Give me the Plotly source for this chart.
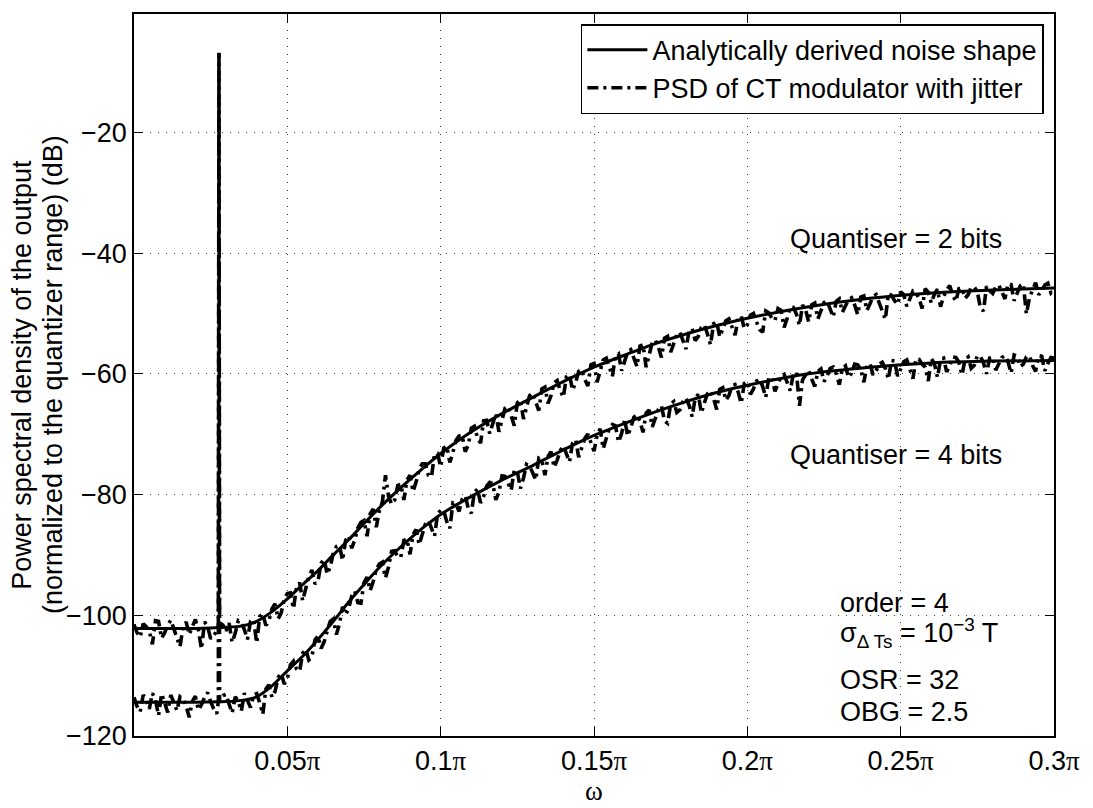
import plotly.graph_objects as go

# Normalised frequency (units of pi) for the analytic noise-shape curves
model_freq = [0.0, 0.01, 0.02, 0.03, 0.035, 0.04, 0.045, 0.05, 0.055, 0.06,
              0.065, 0.07, 0.075, 0.08, 0.085, 0.09, 0.095, 0.10, 0.11, 0.12,
              0.13, 0.14, 0.15, 0.16, 0.17, 0.18, 0.19, 0.20, 0.22, 0.24,
              0.26, 0.28, 0.30]
ntf_2bit = [-102.2, -102.2, -102.2, -102.0, -101.8, -101.0, -99.4, -97.3, -94.9, -92.6,
            -90.0, -87.5, -84.8, -82.2, -79.8, -77.5, -75.3, -73.2, -69.6, -66.6,
            -63.9, -61.3, -58.9, -56.9, -55.0, -53.4, -52.0, -50.8, -48.9, -47.5,
            -46.6, -46.1, -45.8]
ntf_4bit = [-114.4, -114.4, -114.4, -114.3, -114.1, -113.5, -111.7, -109.2, -106.8, -104.0,
            -101.0, -97.8, -94.9, -92.1, -89.6, -87.3, -85.2, -83.3, -80.3, -77.6,
            -75.2, -72.6, -70.2, -68.2, -66.3, -64.6, -63.1, -61.9, -60.0, -58.9,
            -58.2, -57.9, -57.8]

# Simulated PSD of the CT modulator with clock jitter, one bin every 0.001*pi
psd_step = 0.001
psd_2bit = [
    -101.5, -102.9, -103.6, -101.4, -101.9, -102.6, -104.8, -100.9, -101.0, -103.8,
    -102.9, -101.6, -100.8, -102.3, -104.1, -105.2, -102.0, -101.1, -103.2, -102.0,
    -100.7, -102.4, -105.6, -101.1, -101.8, -103.9, -103.4, -102.5, -101.3, -101.6,
    -102.6, -101.3, -104.5, -103.0, -100.9, -101.2, -102.4, -104.0, -101.0, -100.7,
    -104.6, -100.2, -99.8, -101.7, -100.9, -98.9, -98.1, -100.6, -99.6, -97.3,
    -96.4, -96.3, -98.9, -95.4, -94.6, -97.6, -95.8, -93.6, -92.5, -94.8,
    -94.3, -91.4, -90.7, -93.2, -92.0, -89.6, -88.6, -88.4, -90.9, -87.6,
    -86.8, -88.9, -87.5, -85.5, -84.6, -84.3, -86.9, -83.2, -82.4, -85.4,
    -82.7, -81.2, -76.8, -80.3, -81.6, -80.9, -78.5, -78.3, -80.9, -77.6,
    -76.8, -79.5, -77.9, -75.8, -74.9, -74.9, -76.8, -77.1, -73.3, -73.2,
    -75.4, -72.3, -72.0, -74.7, -73.0, -71.0, -70.3, -70.2, -72.9, -71.8,
    -69.0, -68.7, -70.6, -71.5, -67.8, -67.7, -69.9, -68.3, -66.6, -69.6,
    -67.9, -65.7, -65.4, -66.9, -68.6, -64.8, -64.3, -67.5, -65.6, -63.6,
    -63.2, -64.6, -66.1, -62.5, -62.2, -64.9, -63.6, -61.5, -61.1, -62.8,
    -63.9, -60.5, -60.1, -62.7, -61.5, -59.6, -59.3, -60.9, -62.0, -58.5,
    -58.3, -61.4, -59.7, -57.7, -57.4, -58.8, -60.4, -57.0, -56.7, -59.5,
    -58.1, -56.3, -56.0, -57.6, -58.8, -55.4, -55.2, -58.9, -56.5, -54.8,
    -54.4, -55.6, -57.3, -54.1, -53.8, -56.4, -55.0, -53.5, -53.1, -54.6,
    -55.9, -52.9, -52.5, -54.5, -53.8, -52.3, -51.9, -53.4, -55.2, -51.7,
    -51.4, -53.9, -52.6, -51.2, -50.9, -52.2, -53.6, -50.8, -50.4, -52.5,
    -51.9, -50.3, -50.0, -51.4, -52.7, -53.1, -49.6, -49.9, -50.8, -51.2,
    -49.2, -49.5, -52.3, -50.8, -48.9, -49.0, -50.1, -52.0, -48.6, -49.4,
    -51.4, -48.6, -48.3, -50.9, -49.5, -48.2, -47.9, -49.3, -50.6, -48.0,
    -47.6, -49.8, -48.9, -47.7, -47.4, -48.6, -50.2, -47.3, -47.1, -49.5,
    -48.4, -47.2, -46.9, -48.1, -49.6, -51.0, -46.7, -47.0, -47.9, -48.5,
    -46.4, -46.9, -48.8, -47.6, -46.3, -46.6, -47.5, -49.2, -45.9, -46.5,
    -48.3, -46.8, -46.0, -48.9, -47.2, -46.1, -45.4, -47.0, -48.0, -45.9,
    -45.8, -47.5, -46.9, -45.7, -45.6, -46.4, -49.1, -49.6, -45.5, -46.2,
    -46.7, -45.6, -45.3, -46.4, -47.6, -45.1, -45.2, -47.9, -46.5, -45.4,
    -45.1, -50.1, -47.4, -46.0, -44.9, -46.9, -46.3, -45.3, -45.0, -46.6,
    -46.1]
psd_4bit = [
    -113.6, -115.1, -116.0, -113.2, -114.1, -115.5, -112.9, -114.0, -116.6, -113.0,
    -114.5, -116.1, -113.2, -114.6, -115.8, -113.5, -113.9, -115.0, -116.9, -114.3,
    -113.4, -115.7, -114.8, -113.6, -112.8, -114.3, -115.5, -116.3, -114.0, -113.3,
    -113.1, -114.7, -116.2, -113.5, -114.2, -115.9, -112.9, -114.1, -115.3, -113.2,
    -113.0, -114.5, -116.4, -112.2, -111.5, -113.6, -112.6, -110.3, -109.6, -111.4,
    -110.5, -108.2, -107.6, -108.9, -109.3, -106.3, -105.6, -107.4, -106.9, -104.1,
    -103.4, -105.5, -104.4, -102.6, -101.0, -100.6, -103.2, -101.4, -98.6, -99.9,
    -98.9, -96.8, -96.0, -97.9, -98.0, -94.6, -93.7, -95.9, -94.4, -92.4,
    -91.5, -91.2, -93.8, -92.0, -89.4, -89.3, -90.3, -90.4, -87.6, -87.4,
    -89.9, -86.6, -85.8, -88.3, -86.7, -84.9, -84.3, -85.8, -86.9, -83.2,
    -82.6, -82.7, -84.5, -85.6, -81.4, -81.6, -82.8, -80.8, -80.2, -82.3,
    -83.1, -79.6, -79.1, -81.4, -80.3, -78.6, -78.0, -78.2, -80.9, -79.6,
    -76.9, -77.0, -78.2, -79.3, -75.9, -76.2, -79.0, -77.3, -75.0, -75.3,
    -76.4, -77.6, -74.0, -74.3, -76.8, -73.7, -72.9, -75.5, -74.3, -72.7,
    -71.9, -73.3, -74.6, -71.5, -70.9, -73.8, -72.2, -70.7, -70.0, -71.6,
    -72.8, -70.2, -69.1, -72.4, -70.5, -69.0, -68.4, -68.6, -71.3, -69.9,
    -67.6, -70.3, -68.9, -67.2, -66.8, -67.9, -69.7, -66.5, -66.0, -68.8,
    -67.4, -65.9, -65.3, -67.8, -68.2, -65.0, -64.6, -66.4, -66.0, -64.6,
    -64.0, -65.2, -67.1, -64.0, -63.4, -66.5, -64.8, -63.3, -62.8, -64.1,
    -65.9, -62.6, -62.3, -64.4, -63.6, -62.0, -61.8, -63.0, -64.9, -61.6,
    -61.3, -63.4, -62.5, -61.2, -60.9, -62.1, -63.9, -60.7, -60.5, -62.9,
    -61.7, -60.4, -60.1, -61.5, -62.8, -60.0, -59.7, -65.3, -61.0, -60.2,
    -59.4, -60.9, -62.1, -59.6, -59.2, -61.3, -60.4, -59.1, -58.9, -60.0,
    -61.8, -59.1, -58.7, -60.6, -59.9, -58.4, -58.5, -59.3, -61.4, -58.6,
    -58.3, -60.2, -59.5, -58.4, -58.1, -59.1, -60.9, -57.8, -57.9, -60.4,
    -59.2, -58.0, -57.7, -59.3, -60.8, -57.5, -57.6, -58.4, -58.9, -61.2,
    -57.5, -58.3, -60.6, -57.6, -57.4, -59.7, -58.7, -57.2, -57.3, -58.1,
    -60.2, -57.6, -57.2, -59.1, -58.6, -57.0, -57.1, -58.2, -60.0, -57.4,
    -57.2, -59.4, -58.5, -57.3, -57.0, -58.0, -59.9, -56.9, -57.1, -58.8,
    -58.4, -57.2, -57.0, -58.6, -59.6, -57.0, -57.1, -59.5, -58.3, -57.3,
    -57.4]

# Input tone bin
tone_freq = [0.0275, 0.0277, 0.0279]
tone_2bit = [-102.0, -6.8, -102.3]
tone_4bit = [-114.3, -6.8, -114.5]

x_ticks = [0.05, 0.10, 0.15, 0.20, 0.25, 0.30]
x_ticklabels = ["0.05", "0.1", "0.15", "0.2", "0.25", "0.3"]
y_ticks = [-120, -100, -80, -60, -40, -20]
y_ticklabels = ["\u2212120", "\u2212100", "\u221280", "\u221260", "\u221240", "\u221220"]


def with_tone(values, tone_vals):
    pts = [(round(i * psd_step, 4), v) for i, v in enumerate(values)]
    pts += list(zip(tone_freq, tone_vals))
    pts.sort(key=lambda p: p[0])
    return [p[0] for p in pts], [p[1] for p in pts]


FONT = "Liberation Sans, Arial, Helvetica, sans-serif"
SERIF = "Liberation Serif, DejaVu Serif, serif"
FS = 27

fig = go.Figure()

for i, (vals, tone) in enumerate([(psd_2bit, tone_2bit), (psd_4bit, tone_4bit)]):
    fx, fy = with_tone(vals, tone)
    fig.add_trace(go.Scatter(
        x=fx, y=fy, mode="lines",
        line=dict(color="black", width=3.6, dash="11px,5px,3px,5px"),
        name="PSD of CT modulator with jitter",
        showlegend=(i == 0), legendrank=2,
    ))

for i, vals in enumerate([ntf_2bit, ntf_4bit]):
    fig.add_trace(go.Scatter(
        x=model_freq, y=vals, mode="lines",
        line=dict(color="black", width=3, shape="spline", smoothing=0.6),
        name="Analytically derived noise shape",
        showlegend=(i == 0), legendrank=1,
    ))

axis_common = dict(
    showline=True, linecolor="black", linewidth=1.5, mirror="ticks",
    ticks="inside", ticklen=9, tickwidth=1.3, tickcolor="black",
    showgrid=True, gridcolor="#3a3a3a", gridwidth=1, griddash="1px,7px",
    zeroline=False,
    tickfont=dict(family=FONT, size=FS, color="black"),
)

pi_labels = [f"{t}<span style='font-family:{SERIF.split(',')[0]}'>π</span>" for t in x_ticklabels]
fig.update_xaxes(range=[0, 0.3], tickvals=x_ticks, ticktext=pi_labels, **axis_common)
fig.update_yaxes(range=[-120, -0.4], tickvals=y_ticks, ticktext=y_ticklabels, **axis_common)

ann = [
    dict(x=0.2133, y=-37.6, text="Quantiser = 2 bits"),
    dict(x=0.2133, y=-73.5, text="Quantiser = 4 bits"),
    dict(x=0.2297, y=-97.9, text="order = 4"),
    dict(x=0.2297, y=-103.0, text="σ<sub>Δ Ts</sub> = 10<sup>\u22123</sup> T"),
    dict(x=0.2297, y=-110.8, text="OSR = 32"),
    dict(x=0.2297, y=-116.1, text="OBG = 2.5"),
]
annotations = []
for a in ann:
    a.update(xref="x", yref="y", xanchor="left", yanchor="middle", showarrow=False,
             font=dict(family=FONT, size=FS, color="black"))
    annotations.append(a)

# axis titles
annotations += [
    dict(x=-0.122, y=0.5, xref="paper", yref="paper", xanchor="center", yanchor="middle",
         text="Power spectral density of the output", textangle=-90, showarrow=False,
         font=dict(family=FONT, size=FS, color="black")),
    dict(x=-0.088, y=0.5, xref="paper", yref="paper", xanchor="center", yanchor="middle",
         text="(normalized to the quantizer range) (dB)", textangle=-90, showarrow=False,
         font=dict(family=FONT, size=FS, color="black")),
    dict(x=0.5, y=-0.076, xref="paper", yref="paper", xanchor="center", yanchor="middle",
         text="ω", showarrow=False,
         font=dict(family=SERIF, size=FS, color="black")),
]

fig.update_layout(
    width=1093, height=808,
    margin=dict(l=134, r=39, t=14, b=72),
    paper_bgcolor="white", plot_bgcolor="white",
    annotations=annotations,
    legend=dict(
        x=0.989, y=0.986, xanchor="right", yanchor="top",
        bgcolor="white", bordercolor="black", borderwidth=1.5,
        font=dict(family=FONT, size=FS, color="black"),
        itemwidth=60, tracegroupgap=0,
    ),
)

fig.write_html("out.html")
